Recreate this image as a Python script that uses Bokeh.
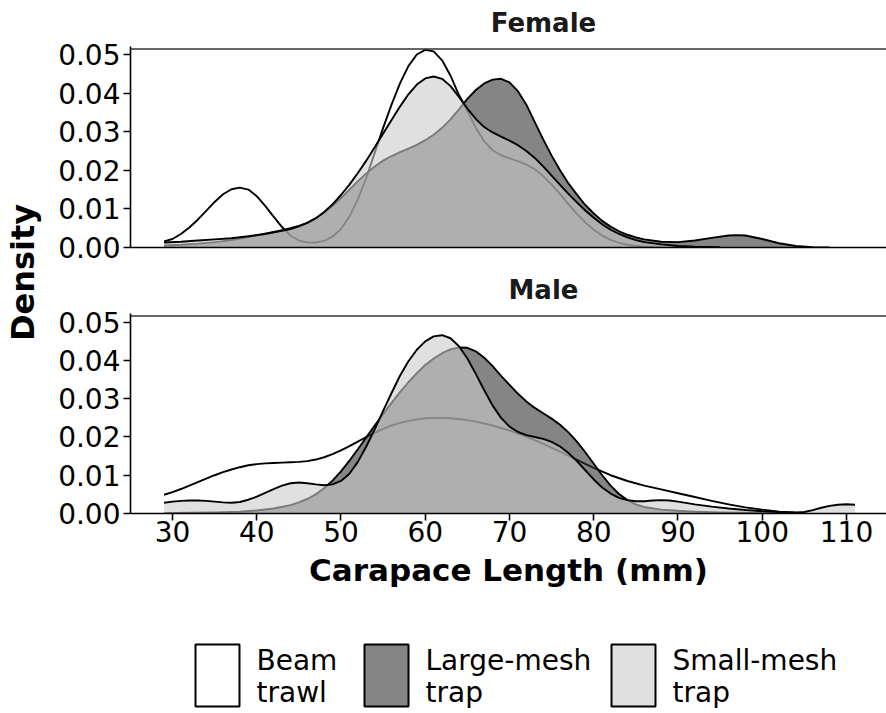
import numpy as np
from bokeh.plotting import figure
from bokeh.models import Range1d, FixedTicker, PrintfTickFormatter, Span
from bokeh.layouts import row, column
from bokeh.embed import file_html
from bokeh.resources import INLINE
from bokeh.core.properties import value

FONT = "DejaVu Sans"

# ---------------- data ----------------
gears = ["Beam trawl", "Large-mesh trap", "Small-mesh trap"]
legend_lines = [["Beam", "trawl"], ["Large-mesh", "trap"], ["Small-mesh", "trap"]]
panels = ["Female", "Male"]
x_ticks = [30, 40, 50, 60, 70, 80, 90, 100, 110]
y_ticks = [0.00, 0.01, 0.02, 0.03, 0.04, 0.05]

female_beam_x = list(range(29, 87)) + [88]
female_beam_y = [0.0016, 0.0022, 0.0035, 0.0052, 0.0072, 0.0095, 0.0118, 0.0138, 0.0151, 0.0155,
                 0.0150, 0.0133, 0.0108, 0.0080, 0.0053, 0.0031, 0.0018, 0.0013, 0.0013, 0.0017,
                 0.0028, 0.0048, 0.0080, 0.0125, 0.0180, 0.0245, 0.0310, 0.0370, 0.0425, 0.0470,
                 0.0500, 0.0512, 0.0508, 0.0485, 0.0445, 0.0395, 0.0355, 0.0310, 0.0275, 0.0252,
                 0.0239, 0.0231, 0.0224, 0.0215, 0.0203, 0.0185, 0.0163, 0.0138, 0.0112, 0.0087,
                 0.0065, 0.0046, 0.0031, 0.0020, 0.0012, 0.0007, 0.0004, 0.0002, 0.0001]

female_large_x = [29, 31, 33, 35, 37, 39, 41, 43] + list(range(44, 87)) + \
                 [88, 90, 92, 94, 96, 97, 98, 100, 102, 104, 106, 108]
female_large_y = [0.0005, 0.0007, 0.0010, 0.0014, 0.0019, 0.0027, 0.0036, 0.0045,
                  0.0050, 0.0056, 0.0064, 0.0075, 0.0090, 0.0108, 0.0128, 0.0150, 0.0172, 0.0192,
                  0.0210, 0.0225, 0.0237, 0.0247, 0.0256, 0.0266, 0.0278, 0.0292, 0.0310, 0.0332,
                  0.0358, 0.0385, 0.0408, 0.0425, 0.0435, 0.0437, 0.0428, 0.0405, 0.0370, 0.0325,
                  0.0280, 0.0238, 0.0200, 0.0166, 0.0137, 0.0110, 0.0088, 0.0069, 0.0054, 0.0042,
                  0.0033, 0.0026, 0.0021,
                  0.0015, 0.0014, 0.0018, 0.0025, 0.0031, 0.0032, 0.0031, 0.0022, 0.0011, 0.0004,
                  0.0001, 0.0000]

female_small_x = [29, 31, 33, 35, 37, 39, 41, 43] + list(range(44, 87)) + [88, 90, 92, 95]
female_small_y = [0.0013, 0.0015, 0.0018, 0.0021, 0.0024, 0.0029, 0.0035, 0.0043,
                  0.0048, 0.0055, 0.0064, 0.0076, 0.0092, 0.0112, 0.0136, 0.0163, 0.0193, 0.0225,
                  0.0260, 0.0295, 0.0330, 0.0365, 0.0397, 0.0422, 0.0438, 0.0443, 0.0437, 0.0418,
                  0.0390, 0.0360, 0.0333, 0.0312, 0.0298, 0.0287, 0.0277, 0.0265, 0.0250, 0.0232,
                  0.0210, 0.0186, 0.0162, 0.0139, 0.0117, 0.0096, 0.0077, 0.0060, 0.0046, 0.0035,
                  0.0026, 0.0019, 0.0014,
                  0.0008, 0.0004, 0.0002, 0.0001]

male_beam_x = list(range(29, 67)) + list(range(68, 105, 2)) + [105]
male_beam_y = [0.0049, 0.0056, 0.0064, 0.0073, 0.0082, 0.0091, 0.0100, 0.0108, 0.0115, 0.0121,
               0.0126, 0.0129, 0.0131, 0.0132, 0.0133, 0.0134, 0.0135, 0.0137, 0.0141, 0.0147,
               0.0155, 0.0165, 0.0176, 0.0188, 0.0200, 0.0211, 0.0221, 0.0230, 0.0237, 0.0242,
               0.0246, 0.0249, 0.0250, 0.0250, 0.0249, 0.0247, 0.0244, 0.0240,
               0.0230, 0.0217, 0.0201, 0.0182, 0.0162, 0.0140, 0.0119, 0.0100, 0.0085, 0.0073,
               0.0063, 0.0053, 0.0043, 0.0033, 0.0024, 0.0016, 0.0010, 0.0005, 0.0002, 0.0001]

male_large_x = [29, 32, 35, 38, 40, 42, 44] + list(range(45, 87)) + [88, 90, 92, 95, 98, 100, 103]
male_large_y = [0.0001, 0.0002, 0.0003, 0.0005, 0.0008, 0.0013, 0.0022,
                0.0029, 0.0038, 0.0050, 0.0066, 0.0086, 0.0110, 0.0138, 0.0168, 0.0199, 0.0230,
                0.0260, 0.0289, 0.0317, 0.0343, 0.0367, 0.0388, 0.0405, 0.0419, 0.0429, 0.0434,
                0.0433, 0.0424, 0.0407, 0.0385, 0.0360, 0.0336, 0.0313, 0.0293, 0.0276, 0.0262,
                0.0248, 0.0232, 0.0212, 0.0188, 0.0160, 0.0130, 0.0100, 0.0073, 0.0051, 0.0035,
                0.0024, 0.0017,
                0.0010, 0.0007, 0.0005, 0.0003, 0.0002, 0.0001, 0.0000]

male_small_x = list(range(29, 91)) + [92, 94, 96, 98, 100, 102, 104, 105, 106, 107, 108, 109, 110, 111]
male_small_y = [0.0028, 0.0031, 0.0033, 0.0034, 0.0034, 0.0033, 0.0031, 0.0029, 0.0028, 0.0030,
                0.0036, 0.0044, 0.0054, 0.0064, 0.0073, 0.0079, 0.0081, 0.0079, 0.0076, 0.0074,
                0.0076, 0.0085, 0.0104, 0.0135, 0.0175, 0.0220, 0.0268, 0.0315, 0.0360, 0.0398,
                0.0428, 0.0450, 0.0463, 0.0466, 0.0458, 0.0437, 0.0405, 0.0365, 0.0322, 0.0282,
                0.0250, 0.0227, 0.0213, 0.0205, 0.0200, 0.0195, 0.0187, 0.0175, 0.0158, 0.0137,
                0.0113, 0.0089, 0.0068, 0.0052, 0.0041, 0.0035, 0.0032, 0.0032, 0.0034, 0.0035,
                0.0034, 0.0031,
                0.0024, 0.0018, 0.0013, 0.0009, 0.0006, 0.0004, 0.0003, 0.0004, 0.0009, 0.0015,
                0.0020, 0.0023, 0.0024, 0.0023]

female_curves = [(female_beam_x, female_beam_y), (female_large_x, female_large_y),
                 (female_small_x, female_small_y)]
male_curves = [(male_beam_x, male_beam_y), (male_large_x, male_large_y),
               (male_small_x, male_small_y)]

# ---------------- styles ----------------
fill_colors = ["#ffffff", "#333333", "#cccccc"]
FILL_ALPHA = 0.6
X_START, X_END = 25.015, 114.748
DENS_W = 53
COL_W = 833
FULL_W = DENS_W + COL_W


def text_fig(w, h):
    f = figure(width=w, height=h, x_range=Range1d(0, w), y_range=Range1d(0, h),
               x_axis_type=None, y_axis_type=None, output_backend="svg",
               toolbar_location=None, title_location=None, min_border=0)
    f.outline_line_color = None
    f.background_fill_color = "white"
    f.border_fill_color = "white"
    return f


def style_axis(ax):
    ax.axis_line_color = "black"
    ax.axis_line_width = 1.6
    ax.major_tick_line_color = "black"
    ax.major_tick_line_width = 1.6
    ax.major_tick_out = 7
    ax.major_tick_in = 0
    ax.minor_tick_line_color = None
    ax.major_label_text_font = FONT
    ax.major_label_text_font_size = "28px"
    ax.major_label_text_color = "black"


def panel_fig(curves, y_end, top_line, show_x, frame_h, bottom):
    p = figure(width=COL_W, height=10 + frame_h + bottom,
               x_range=Range1d(X_START, X_END), y_range=Range1d(0, y_end),
               output_backend="svg", toolbar_location=None, title_location=None,
               min_border_left=77, min_border_right=0, min_border_top=10,
               min_border_bottom=bottom)
    p.outline_line_color = None
    p.grid.visible = False
    p.background_fill_color = "white"
    p.border_fill_color = "white"
    for (xs, ys), col in zip(curves, fill_colors):
        p.varea(x=xs, y1=0, y2=ys, fill_color=col, fill_alpha=FILL_ALPHA)
        p.line(xs, ys, line_color="black", line_width=1.9, line_join="round")
    p.add_layout(Span(location=top_line, dimension="width", line_color="#333333",
                      line_width=1.6))
    style_axis(p.yaxis[0])
    p.yaxis[0].ticker = FixedTicker(ticks=y_ticks)
    p.yaxis[0].formatter = PrintfTickFormatter(format="%.2f")
    p.yaxis[0].major_label_standoff = 3
    style_axis(p.xaxis[0])
    if show_x:
        p.xaxis[0].ticker = FixedTicker(ticks=x_ticks)
        p.xaxis[0].major_label_standoff = 0
        p.xaxis[0].axis_label = "Carapace Length (mm)"
        p.xaxis[0].axis_label_text_font = FONT
        p.xaxis[0].axis_label_text_font_size = "31px"
        p.xaxis[0].axis_label_text_font_style = "bold"
        p.xaxis[0].axis_label_text_color = "black"
        p.xaxis[0].axis_label_standoff = 7
    else:
        p.xaxis[0].ticker = FixedTicker(ticks=[])
        p.xaxis[0].major_tick_out = 0
    return p


def put_text(f, x, y, txt, size, bold=False, align="center", color="black", angle=0.0):
    f.text(x=x, y=y, text=txt, angle=angle, text_font=value(FONT), text_font_size=size,
           text_font_style="bold" if bold else "normal", text_align=align,
           text_baseline="middle", text_color=color)


# strip titles
strip_f = text_fig(COL_W, 36)
put_text(strip_f, [455], [14], [panels[0]], "26px", bold=True, color="#1a1a1a")
strip_m = text_fig(COL_W, 36)
put_text(strip_m, [455], [14], [panels[1]], "26px", bold=True, color="#1a1a1a")

p_f = panel_fig(female_curves, 0.05207, 0.05143, False, 201, 20)
p_m = panel_fig(male_curves, 0.05227, 0.0516, True, 200, 88)

# y title
dens = text_fig(DENS_W, 555)
put_text(dens, [22], [283], ["Density"], "32px", bold=True, angle=np.pi / 2)

# legend
LEG_H = 112
leg = text_fig(FULL_W, LEG_H)
box_left = [195, 364, 611]
leg.quad(left=box_left, right=[b + 44 for b in box_left], bottom=7, top=69,
         fill_color=fill_colors, fill_alpha=FILL_ALPHA, line_color="black", line_width=2)
put_text(leg, [b + 61 for b in box_left], [53] * 3, [l[0] for l in legend_lines], "28px",
         align="left")
put_text(leg, [b + 61 for b in box_left], [21] * 3, [l[1] for l in legend_lines], "28px",
         align="left")

layout = column(row(dens, column(strip_f, p_f, strip_m, p_m, spacing=0), spacing=0), leg,
                spacing=0)

open("out.html", "w").write(file_html(layout, INLINE))
